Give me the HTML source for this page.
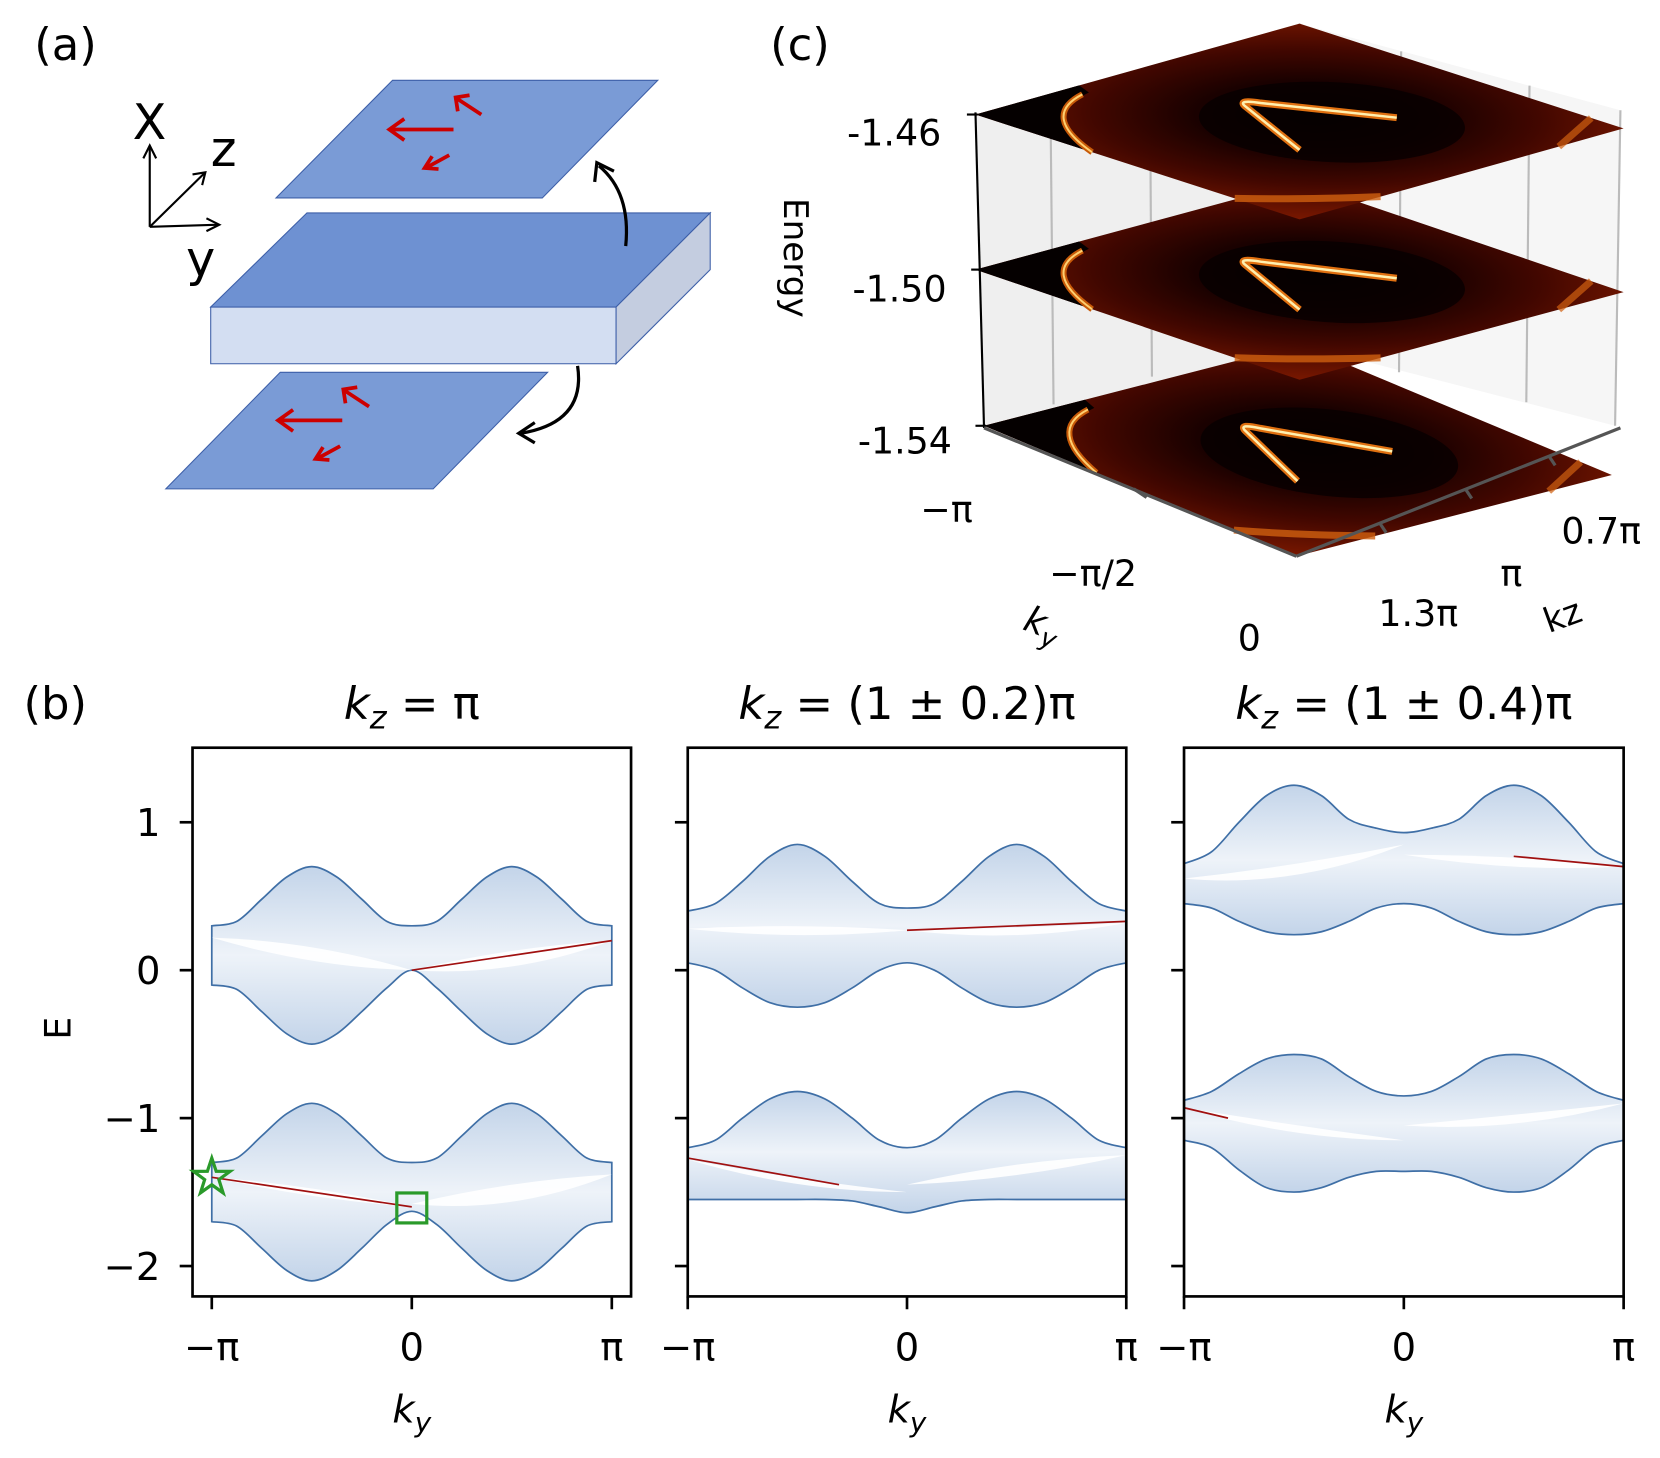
<!DOCTYPE html>
<html><head><meta charset="utf-8"><style>
html,body{margin:0;padding:0;background:#fff;}
svg{display:block;}
text{font-family:"DejaVu Sans","Liberation Sans",sans-serif;fill:#000;}
</style></head><body>
<svg id="fig" width="1660" height="1458" viewBox="0 0 1552 1363" xmlns="http://www.w3.org/2000/svg">
<defs>
<linearGradient id="bandg" x1="0" y1="0" x2="0" y2="1">
<stop offset="0" stop-color="#c3d4e9"/><stop offset="0.5" stop-color="#eef3f9"/><stop offset="1" stop-color="#c3d4e9"/>
</linearGradient>
<radialGradient id="planeg" cx="0.5" cy="0.55" r="0.75">
<stop offset="0" stop-color="#070000"/><stop offset="0.35" stop-color="#1a0100"/><stop offset="0.65" stop-color="#420700"/><stop offset="1" stop-color="#7a1800"/>
</radialGradient>
</defs>

<!-- (a) -->
<g>
<text x="32" y="56" font-size="42">(a)</text>
<polygon points="258,185 367,75 615,75 507,185" fill="#7a9bd6" stroke="#3d5fa8" stroke-width="1"/>
<polygon points="197,287 287,199 664,199 576,287" fill="#6e91d2" stroke="#3d5fa8"/>
<polygon points="197,287 576,287 576,340 197,340" fill="#d3def2" stroke="#3d5fa8"/>
<polygon points="576,287 664,199 664,252 576,340" fill="#c4cde0" stroke="#3d5fa8"/>
<polygon points="155,457 262,348 512,348 405,457" fill="#7a9bd6" stroke="#3d5fa8"/>
<g stroke="#cc0000" stroke-width="3.5" fill="none">
<line x1="424" y1="121" x2="366" y2="121"/><polyline points="378,111 364,121 378,131"/>
<line x1="450" y1="107" x2="427" y2="92"/><polyline points="428,104 426,91 439,89"/>
<line x1="420" y1="145" x2="398" y2="157"/><polyline points="404,146 397,157 410,158"/>
<line x1="320" y1="393" x2="262" y2="393"/><polyline points="274,383 260,393 274,403"/>
<line x1="345" y1="380" x2="322" y2="365"/><polyline points="323,377 321,364 334,362"/>
<line x1="318" y1="417" x2="296" y2="429"/><polyline points="302,418 295,429 308,430"/>
</g>
<g stroke="#000" stroke-width="3" fill="none">
<path d="M585,230 Q590,180 560,155"/><polyline points="556,170 558,152 574,160"/>
<path d="M540,342 Q548,395 487,405"/><polyline points="500,395 485,405 500,414"/>
</g>
<g stroke="#000" stroke-width="2" fill="none">
<line x1="140" y1="212" x2="140" y2="136"/><polyline points="134,148 140,136 146,148"/>
<line x1="140" y1="212" x2="192" y2="161"/><polyline points="180,163 192,161 189,173"/>
<line x1="140" y1="212" x2="205" y2="210"/><polyline points="193,204 205,210 193,216"/>
</g>
<text x="124" y="130" font-size="46">X</text>
<text x="197" y="155" font-size="46">z</text>
<text x="174" y="258" font-size="46">y</text>
</g>

<!-- (c) -->
<g>
<text x="720" y="56" font-size="42">(c)</text>
<polygon points="912,107 1215,22 1215,322 920,398" fill="#efefef"/>
<polygon points="1215,22 1515,103 1510,398 1215,322" fill="#f6f6f6"/>
<g stroke="#bbb" stroke-width="2">
<line x1="982" y1="88" x2="985" y2="378"/><line x1="1075" y1="62" x2="1077" y2="352"/>
<line x1="1215" y1="22" x2="1215" y2="322"/><line x1="1310" y1="48" x2="1308" y2="348"/>
<line x1="1430" y1="80" x2="1427" y2="376"/><line x1="1515" y1="103" x2="1510" y2="398"/>
</g>
<g id="planes"></g>
<line x1="912" y1="105" x2="920" y2="400" stroke="#000" stroke-width="2"/>
<g stroke="#000" stroke-width="2">
<line x1="904" y1="107" x2="914" y2="107"/><line x1="908" y1="252" x2="916" y2="252"/><line x1="912" y1="398" x2="922" y2="398"/>
</g>
<text x="880" y="136" font-size="34" text-anchor="end">-1.46</text>
<text x="885" y="282" font-size="34" text-anchor="end">-1.50</text>
<text x="890" y="424" font-size="34" text-anchor="end">-1.54</text>
<text x="0" y="0" font-size="32" transform="translate(733,185) rotate(90)">Energy</text>
<g stroke="#555" stroke-width="3">
<line x1="920" y1="400" x2="1212" y2="520"/>
<line x1="1212" y1="520" x2="1515" y2="400"/>
<line x1="1060" y1="457" x2="1072" y2="465"/><line x1="1290" y1="489" x2="1296" y2="498"/>
<line x1="1370" y1="457" x2="1376" y2="466"/><line x1="1448" y1="426" x2="1454" y2="435"/>
</g>
<text x="885" y="488" font-size="34" text-anchor="middle">−π</text>
<text x="1022" y="548" font-size="34" text-anchor="middle">−π/2</text>
<text x="1168" y="608" font-size="34" text-anchor="middle">0</text>
<text x="0" y="0" font-size="34" font-style="italic" transform="translate(955,588) rotate(20)">k<tspan font-size="24" dy="8">y</tspan></text>
<text x="1497" y="508" font-size="34" text-anchor="middle">0.7π</text>
<text x="1413" y="548" font-size="34" text-anchor="middle">π</text>
<text x="1326" y="585" font-size="34" text-anchor="middle">1.3π</text>
<text x="0" y="0" font-size="32" transform="translate(1448,592) rotate(-20)">kz</text>
</g>

<text x="22" y="672" font-size="42">(b)</text>
<g id="bpanels"></g>
</svg>

<script>
const NS = "http://www.w3.org/2000/svg";
const PI = Math.PI;
// ---- chart data ----
const kySamples = [-PI,-7*PI/8,-3*PI/4,-5*PI/8,-PI/2,-3*PI/8,-PI/4,-PI/8,0,PI/8,PI/4,3*PI/8,PI/2,5*PI/8,3*PI/4,7*PI/8,PI];
const yTicks = [1, 0, -1, -2];
const yTickLabels = ["1", "0", "−1", "−2"];
const xTicks = [-PI, 0, PI];
const xTickLabels = ["−π", "0", "π"];
const panelTitles = ["= π", "= (1 ± 0.2)π", "= (1 ± 0.4)π"];
const p1UpperTop = [0.3,0.33,0.48,0.63,0.7,0.63,0.48,0.33,0.3,0.33,0.48,0.63,0.7,0.63,0.48,0.33,0.3];
const p1UpperBot = [-0.1,-0.13,-0.28,-0.43,-0.5,-0.43,-0.28,-0.12,0.0,-0.12,-0.28,-0.43,-0.5,-0.43,-0.28,-0.13,-0.1];
const p1LowerTop = [-1.3,-1.27,-1.12,-0.97,-0.9,-0.97,-1.12,-1.27,-1.3,-1.27,-1.12,-0.97,-0.9,-0.97,-1.12,-1.27,-1.3];
const p1LowerBot = [-1.7,-1.73,-1.88,-2.03,-2.1,-2.03,-1.88,-1.72,-1.63,-1.72,-1.88,-2.03,-2.1,-2.03,-1.88,-1.73,-1.7];
const p2UpperTop = [0.4,0.45,0.6,0.77,0.85,0.77,0.6,0.45,0.42,0.45,0.6,0.77,0.85,0.77,0.6,0.45,0.4];
const p2UpperBot = [0.05,0.0,-0.12,-0.22,-0.25,-0.22,-0.12,0.0,0.05,0.0,-0.12,-0.22,-0.25,-0.22,-0.12,0.0,0.05];
const p2LowerTop = [-1.2,-1.15,-1.0,-0.87,-0.82,-0.87,-1.0,-1.15,-1.2,-1.15,-1.0,-0.87,-0.82,-0.87,-1.0,-1.15,-1.2];
const p2LowerBot = [-1.55,-1.55,-1.55,-1.55,-1.55,-1.55,-1.56,-1.6,-1.64,-1.6,-1.56,-1.55,-1.55,-1.55,-1.55,-1.55,-1.55];
const p3UpperTop = [0.72,0.8,1.0,1.18,1.25,1.18,1.02,0.96,0.93,0.96,1.02,1.18,1.25,1.18,1.0,0.8,0.72];
const p3UpperBot = [0.45,0.42,0.33,0.26,0.24,0.26,0.33,0.42,0.45,0.42,0.33,0.26,0.24,0.26,0.33,0.42,0.45];
const p3LowerTop = [-0.88,-0.82,-0.7,-0.6,-0.57,-0.6,-0.72,-0.82,-0.85,-0.82,-0.72,-0.6,-0.57,-0.6,-0.7,-0.82,-0.88];
const p3LowerBot = [-1.15,-1.2,-1.35,-1.47,-1.5,-1.47,-1.4,-1.36,-1.36,-1.36,-1.4,-1.47,-1.5,-1.47,-1.35,-1.2,-1.15];
// white gap lenses: [k, E] polygons
const p1Gaps = [[[-PI,0.22],[-PI/2,0.2],[0,0],[-PI/2,0.02]], [[0,0],[PI/2,0.16],[PI,0.2],[PI/2,-0.05]],
  [[-PI,-1.4],[-PI/2,-1.45],[0,-1.6],[-PI/2,-1.55]], [[0,-1.58],[PI/2,-1.42],[PI,-1.38],[PI/2,-1.65]]];
const p2Gaps = [[[-PI,0.28],[-PI/2,0.32],[0,0.27],[-PI/2,0.2]], [[0,0.27],[PI/2,0.28],[PI,0.32],[PI/2,0.18]],
  [[-PI,-1.28],[-PI/2,-1.42],[0,-1.5],[-PI/2,-1.5]], [[0,-1.45],[PI/2,-1.28],[PI,-1.25],[PI/2,-1.42]]];
const p3Gaps = [[[-PI,0.62],[-PI/2,0.55],[0,0.85],[-PI/2,0.7]], [[0,0.78],[PI/2,0.78],[PI,0.7],[PI/2,0.66]],
  [[-PI,-0.93],[-PI/2,-1.05],[0,-1.15],[-PI/2,-1.15]], [[0,-1.05],[PI/2,-0.98],[PI,-0.9],[PI/2,-1.1]]];
const p1RedK = [[0, PI], [-PI, 0]];
const p1RedE = [[0.0, 0.2], [-1.4, -1.6]];
const p2RedK = [[0, PI], [-PI, -0.31*PI]];
const p2RedE = [[0.27, 0.33], [-1.27, -1.45]];
const p3RedK = [[0.5*PI, PI], [-PI, -0.8*PI]];
const p3RedE = [[0.77, 0.7], [-0.93, -1.0]];

const panels = [
  {x0:180, x1:590, k0:198, k1:572, env:[p1UpperTop,p1UpperBot,p1LowerTop,p1LowerBot], gaps:p1Gaps, rk:p1RedK, re:p1RedE},
  {x0:643, x1:1053, k0:643, k1:1053, env:[p2UpperTop,p2UpperBot,p2LowerTop,p2LowerBot], gaps:p2Gaps, rk:p2RedK, re:p2RedE},
  {x0:1107, x1:1518, k0:1107, k1:1518, env:[p3UpperTop,p3UpperBot,p3LowerTop,p3LowerBot], gaps:p3Gaps, rk:p3RedK, re:p3RedE}
];
const Y0 = 699, Y1 = 1212;
function yScale(E){ return 907 - 138.3*E; }

function mk(tag, attrs, parent){ const e=document.createElementNS(NS,tag); for(const a in attrs) e.setAttribute(a,attrs[a]); parent.appendChild(e); return e; }
function smoothPts(ks, es, xs){
  const pts = ks.map((k,i)=>[xs(k), yScale(es[i])]);
  let d = "";
  const n=pts.length;
  for(let i=0;i<n-1;i++){
    const p0=pts[Math.max(0,i-1)], p1=pts[i], p2=pts[i+1], p3=pts[Math.min(n-1,i+2)];
    const c1=[p1[0]+(p2[0]-p0[0])/6, p1[1]+(p2[1]-p0[1])/6];
    const c2=[p2[0]-(p3[0]-p1[0])/6, p2[1]-(p3[1]-p1[1])/6];
    d += (i===0?"M"+p1[0]+","+p1[1]:"") + " C"+c1+" "+c2+" "+p2;
  }
  return d;
}
function revPath(ks, es, xs){ return smoothPts(ks.slice().reverse(), es.slice().reverse(), xs).replace(/^M/,"L"); }

const root = document.getElementById("bpanels");
panels.forEach((p, pi)=>{
  const g = mk("g", {}, root);
  
  
  const xs = k => p.k0 + (k+PI)/(2*PI)*(p.k1-p.k0);
  [[0,1],[2,3]].forEach((b, bi)=>{
    const d = smoothPts(kySamples, p.env[b[0]], xs) + " " + revPath(kySamples, p.env[b[1]], xs) + " Z";
    const band = mk("path", {d:d, fill:"url(#bandg)", stroke:"#3f6fa6", "stroke-width":"1.6"}, g);
    
    
  });
  p.gaps.forEach(poly=>{
    const pts = poly.map(q=>[xs(q[0]), yScale(q[1])]);
    const d = "M"+pts[0]+" Q"+pts[1]+" "+pts[2]+" Q"+pts[3]+" "+pts[0]+" Z";
    const gp = mk("path", {d:d, fill:"#fff", opacity:"0.9"}, g);
    
    
  });
  p.rk.forEach((ks, ri)=>{
    const es = p.re[ri];
    const ln = mk("line", {x1:xs(ks[0]), y1:yScale(es[0]), x2:xs(ks[1]), y2:yScale(es[1]), stroke:"#a01010", "stroke-width":"1.6"}, g);
    
    
  });
  const fr = mk("rect", {x:p.x0, y:Y0, width:p.x1-p.x0, height:Y1-Y0, fill:"none", stroke:"#000", "stroke-width":"2.5"}, g);
  
  
  yTicks.forEach((t, ti)=>{
    const tk = mk("line", {x1:p.x0-12, y1:yScale(t), x2:p.x0, y2:yScale(t), stroke:"#000", "stroke-width":"2.5"}, g);
    
    
    if(pi===0){
      const tl = mk("text", {x:p.x0-30, y:yScale(t)+13, "font-size":"36", "text-anchor":"end"}, g);
      tl.textContent = yTickLabels[ti];
      
      
    }
  });
  xTicks.forEach((t, ti)=>{
    const tk = mk("line", {x1:xs(t), y1:Y1, x2:xs(t), y2:Y1+12, stroke:"#000", "stroke-width":"2.5"}, g);
    
    
    const tl = mk("text", {x:xs(t), y:1272, "font-size":"36", "text-anchor":"middle"}, g);
    tl.textContent = xTickLabels[ti];
    
    
  });
  const xl = mk("text", {x:(p.x0+p.x1)/2, y:1330, "font-size":"36", "font-style":"italic", "text-anchor":"middle"}, g);
  xl.innerHTML = 'k<tspan font-size="26" dy="9">y</tspan>';
  
  
  const tt = mk("text", {x:(p.x0+p.x1)/2, y:672, "font-size":"42", "text-anchor":"middle"}, g);
  tt.innerHTML = '<tspan font-style="italic">k</tspan><tspan font-size="30" font-style="italic" dy="9">z</tspan><tspan dy="-9"> '+panelTitles[pi]+'</tspan>';
  
  
});
const eLab = mk("text", {x:0, y:0, "font-size":"34", transform:"translate(66,972) rotate(-90)"}, root);
eLab.textContent = "E";


const star = mk("polygon", {points:"", fill:"none", stroke:"#2a9a2a", "stroke-width":"3"}, root);
{ const cx=198, cy=yScale(-1.4); let s=""; for(let i=0;i<10;i++){ const r=i%2?7:18, a=-PI/2+i*PI/5; s+=(cx+r*Math.cos(a))+","+(cy+r*Math.sin(a))+" "; } star.setAttribute("points", s); }


const sq = mk("rect", {x:371, y:yScale(-1.6)-13, width:28, height:28, fill:"none", stroke:"#2a9a2a", "stroke-width":"3"}, root);



// 3D planes (c)
const planeLevels = [-1.46, -1.50, -1.54];
const planeCorners = [[912,107,1215,205,1215,22],[912,252,1215,355,1215,170],[920,398,1212,520,1215,322]];
const pg = document.getElementById("planes");
planeLevels.slice().reverse().forEach((lv, ii)=>{
  const c = planeCorners[planeLevels.length-1-ii];
  const ux=c[2]-c[0], uy=c[3]-c[1], vx=c[4]-c[0], vy=c[5]-c[1];
  const g = mk("g", {transform:`matrix(${ux},${uy},${vx},${vy},${c[0]},${c[1]})`}, pg);
  
  
  mk("polygon", {points:"0,0 1,0 1,1 0,1", fill:"url(#planeg)"}, g);
  mk("path", {d:"M0,0 L0.36,0 Q0.1,0.1 0.05,0.3 L0,0.32 Z", fill:"#050000"}, g);
  mk("path", {d:"M0.36,0.0 Q0.1,0.1 0.05,0.28", fill:"none", stroke:"#c85a08", "stroke-width":"6", "vector-effect":"non-scaling-stroke"}, g);
  mk("path", {d:"M0.36,0.0 Q0.1,0.1 0.05,0.28", fill:"none", stroke:"#ffcf70", "stroke-width":"2", "vector-effect":"non-scaling-stroke"}, g);
  mk("ellipse", {cx:0.55, cy:0.55, rx:0.3, ry:0.28, fill:"#050000", opacity:"0.75"}, g);
  mk("path", {d:"M0.645,0.355 L0.34,0.49 Q0.3,0.51 0.35,0.53 L0.62,0.68", fill:"none", stroke:"#e07010", "stroke-width":"7", "vector-effect":"non-scaling-stroke"}, g);
  mk("path", {d:"M0.645,0.355 L0.34,0.49 Q0.3,0.51 0.35,0.53 L0.62,0.68", fill:"none", stroke:"#fff0b0", "stroke-width":"2.5", "vector-effect":"non-scaling-stroke"}, g);
  mk("path", {d:"M0.8,0.0 Q0.9,0.1 1,0.25", fill:"none", stroke:"#d06010", "stroke-width":"7", "vector-effect":"non-scaling-stroke", opacity:"0.8"}, g);
  mk("path", {d:"M0.9,1 Q0.95,0.9 1,0.8", fill:"none", stroke:"#d06010", "stroke-width":"7", "vector-effect":"non-scaling-stroke", opacity:"0.7"}, g);
});
</script>
</body></html>
